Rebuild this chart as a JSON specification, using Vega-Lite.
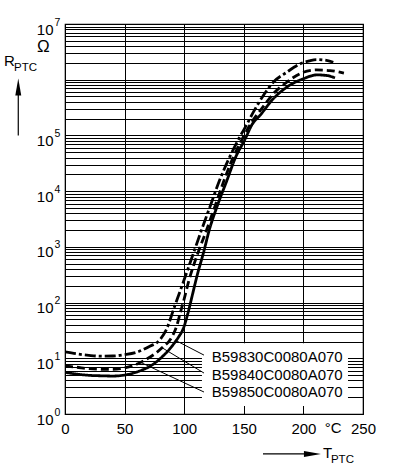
{
  "$schema": "https://vega.github.io/schema/vega-lite/v6.json",
  "autosize": {"type": "none"},
  "width": 298,
  "height": 390,
  "padding": {"left": 65, "top": 24, "right": 30, "bottom": 54},
  "background": "white",
  "config": {
    "view": {"stroke": "black", "strokeWidth": 1.2},
    "font": "Liberation Sans",
    "text": {"font": "Liberation Sans", "color": "black"}
  },
  "datasets": {
    "curves": [
      {"s": "A", "T": 0, "R": 13}, {"s": "A", "T": 10, "R": 12}, {"s": "A", "T": 20, "R": 11.3}, {"s": "A", "T": 30, "R": 10.9},
      {"s": "A", "T": 40, "R": 11}, {"s": "A", "T": 50, "R": 11.6}, {"s": "A", "T": 60, "R": 12.8}, {"s": "A", "T": 70, "R": 16},
      {"s": "A", "T": 80, "R": 22}, {"s": "A", "T": 84.7, "R": 31.6}, {"s": "A", "T": 92, "R": 86}, {"s": "A", "T": 99.8, "R": 251},
      {"s": "A", "T": 107, "R": 692}, {"s": "A", "T": 114.5, "R": 1995}, {"s": "A", "T": 122, "R": 5520}, {"s": "A", "T": 129.6, "R": 15500},
      {"s": "A", "T": 138, "R": 40300}, {"s": "A", "T": 146, "R": 89000}, {"s": "A", "T": 152, "R": 150000}, {"s": "A", "T": 158, "R": 262000},
      {"s": "A", "T": 166.4, "R": 521000}, {"s": "A", "T": 174.7, "R": 902000}, {"s": "A", "T": 186, "R": 1360000}, {"s": "A", "T": 197.1, "R": 1920000},
      {"s": "A", "T": 205, "R": 2180000}, {"s": "A", "T": 211.2, "R": 2300000}, {"s": "A", "T": 218, "R": 2250000}, {"s": "A", "T": 225.1, "R": 2060000},
      {"s": "B", "T": 0, "R": 7.3}, {"s": "B", "T": 10, "R": 6.9}, {"s": "B", "T": 20, "R": 6.5}, {"s": "B", "T": 30, "R": 6.35},
      {"s": "B", "T": 40, "R": 6.3}, {"s": "B", "T": 50, "R": 6.7}, {"s": "B", "T": 60, "R": 7.8}, {"s": "B", "T": 67, "R": 9.3},
      {"s": "B", "T": 75.8, "R": 12.2}, {"s": "B", "T": 81.4, "R": 15.4}, {"s": "B", "T": 89.8, "R": 24.3}, {"s": "B", "T": 93.7, "R": 38},
      {"s": "B", "T": 97, "R": 69}, {"s": "B", "T": 100, "R": 117}, {"s": "B", "T": 104, "R": 251}, {"s": "B", "T": 111, "R": 724},
      {"s": "B", "T": 118.7, "R": 1995}, {"s": "B", "T": 126, "R": 5500}, {"s": "B", "T": 133.4, "R": 15500}, {"s": "B", "T": 141, "R": 40000},
      {"s": "B", "T": 149, "R": 89000}, {"s": "B", "T": 157, "R": 178000}, {"s": "B", "T": 166.4, "R": 331000}, {"s": "B", "T": 174.7, "R": 558000},
      {"s": "B", "T": 186, "R": 902000}, {"s": "B", "T": 199.9, "R": 1360000}, {"s": "B", "T": 211.2, "R": 1500000}, {"s": "B", "T": 222.3, "R": 1460000},
      {"s": "B", "T": 234, "R": 1310000},
      {"s": "C", "T": 0, "R": 5.6}, {"s": "C", "T": 10, "R": 5.2}, {"s": "C", "T": 20, "R": 4.95}, {"s": "C", "T": 30, "R": 4.85},
      {"s": "C", "T": 40, "R": 4.8}, {"s": "C", "T": 50, "R": 5.0}, {"s": "C", "T": 57, "R": 5.4}, {"s": "C", "T": 64.6, "R": 6.15},
      {"s": "C", "T": 73, "R": 7.55}, {"s": "C", "T": 81.4, "R": 10.6}, {"s": "C", "T": 87, "R": 14}, {"s": "C", "T": 92.5, "R": 19.8},
      {"s": "C", "T": 95.4, "R": 24.3}, {"s": "C", "T": 99.2, "R": 34}, {"s": "C", "T": 103, "R": 63}, {"s": "C", "T": 107, "R": 141},
      {"s": "C", "T": 111, "R": 316}, {"s": "C", "T": 116, "R": 759}, {"s": "C", "T": 121, "R": 1995}, {"s": "C", "T": 128, "R": 5620},
      {"s": "C", "T": 135.8, "R": 15500}, {"s": "C", "T": 143, "R": 40000}, {"s": "C", "T": 151, "R": 85000}, {"s": "C", "T": 157, "R": 158000},
      {"s": "C", "T": 163.6, "R": 229000}, {"s": "C", "T": 174.7, "R": 455000}, {"s": "C", "T": 186, "R": 735000}, {"s": "C", "T": 199.9, "R": 1040000},
      {"s": "C", "T": 211.2, "R": 1220000}, {"s": "C", "T": 219.5, "R": 1190000}, {"s": "C", "T": 226.5, "R": 1080000}
    ],
    "box": [{"T": 114.9, "T2": 237.4, "R": 18.7, "R2": 1.39}],
    "leaders": [
      {"T": 92.3, "R": 21.2, "T2": 116.6, "R2": 11.4},
      {"T": 80.5, "R": 15.9, "T2": 116.6, "R2": 5.43},
      {"T": 62.9, "R": 8.55, "T2": 116.6, "R2": 2.48}
    ],
    "labels": [
      {"T": 123.1, "R": 8.66, "text": "B59830C0080A070"},
      {"T": 123.1, "R": 4.15, "text": "B59840C0080A070"},
      {"T": 123.1, "R": 1.99, "text": "B59850C0080A070"}
    ],
    "exps": [
      {"T": 0, "R": 1, "e": "0"}, {"T": 0, "R": 10, "e": "1"}, {"T": 0, "R": 100, "e": "2"}, {"T": 0, "R": 1000, "e": "3"},
      {"T": 0, "R": 10000, "e": "4"}, {"T": 0, "R": 100000, "e": "5"}, {"T": 0, "R": 10000000, "e": "7"}
    ],
    "bigText": [
      {"T": -51.2, "R": 1796000, "text": "R"},
      {"T": 216.4, "R": 0.163, "text": "T"},
      {"T": 217.9, "R": 0.457, "text": "°C"}
    ],
    "omega": [{"T": -18.2, "R": 3110000, "text": "Ω"}],
    "subText": [
      {"T": -42.8, "R": 1462000, "text": "PTC"},
      {"T": 223.1, "R": 0.1324, "text": "PTC"}
    ],
    "arrowLines": [
      {"T": -39.2, "R": 100000, "T2": -39.2, "R2": 590000},
      {"T": 166.1, "R": 0.192, "T2": 202.2, "R2": 0.192}
    ],
    "arrowUp": [{"T": -39.2, "R": 740000}],
    "arrowRight": [{"T": 207.6, "R": 0.192}]
  },
  "encoding": {
    "x": {
      "field": "T", "type": "quantitative",
      "scale": {"domain": [0, 250], "nice": false, "zero": false},
      "axis": {
        "title": null, "values": [0, 50, 100, 150, 200, 250],
        "grid": true, "gridColor": "black", "gridWidth": 1, "gridOpacity": 1,
        "ticks": false, "tickSize": 0, "domain": false,
        "labelFont": "Liberation Sans", "labelFontSize": 15, "labelColor": "black",
        "labelPadding": 7, "labelFlush": false, "labelOverlap": false, "labelBound": false
      }
    },
    "y": {
      "field": "R", "type": "quantitative",
      "scale": {"type": "log", "domain": [1, 10000000], "nice": false},
      "axis": {
        "title": null,
        "values": [1,2,3,4,5,6,7,8,9,10,20,30,40,50,60,70,80,90,100,200,300,400,500,600,700,800,900,1000,2000,3000,4000,5000,6000,7000,8000,9000,10000,20000,30000,40000,50000,60000,70000,80000,90000,100000,200000,300000,400000,500000,600000,700000,800000,900000,1000000,2000000,3000000,4000000,5000000,6000000,7000000,8000000,9000000,10000000],
        "labelExpr": "indexof([1,10,100,1000,10000,100000,10000000], datum.value) >= 0 ? '10' : ''",
        "grid": true, "gridColor": "black", "gridWidth": 1, "gridOpacity": 1,
        "ticks": false, "tickSize": 0, "domain": false,
        "labelFont": "Liberation Sans", "labelFontSize": 15, "labelColor": "black",
        "labelPadding": 12, "labelBaseline": "top", "labelOffset": -2,
        "labelFlush": false, "labelOverlap": false, "labelBound": false
      }
    }
  },
  "layer": [
    {
      "data": {"name": "curves"},
      "mark": {"type": "line", "color": "black", "strokeWidth": 2.8, "interpolate": "monotone", "clip": true},
      "encoding": {
        "detail": {"field": "s"},
        "strokeDash": {"field": "s", "type": "nominal", "legend": null,
          "scale": {"domain": ["A", "B", "C"], "range": [[11, 3, 3, 3], [8, 4], [1, 0]]}}
      }
    },
    {
      "data": {"name": "box"},
      "mark": {"type": "rect", "fill": "white", "stroke": null},
      "encoding": {"x2": {"field": "T2"}, "y2": {"field": "R2"}}
    },
    {
      "data": {"name": "leaders"},
      "mark": {"type": "rule", "color": "black", "strokeWidth": 1},
      "encoding": {"x2": {"field": "T2"}, "y2": {"field": "R2"}}
    },
    {
      "data": {"name": "labels"},
      "mark": {"type": "text", "align": "left", "baseline": "alphabetic", "fontSize": 15, "font": "Liberation Sans", "color": "black"},
      "encoding": {"text": {"field": "text"}}
    },
    {
      "data": {"name": "exps"},
      "mark": {"type": "text", "align": "left", "baseline": "alphabetic", "fontSize": 10.5, "dx": -10.5, "dy": 1.5, "font": "Liberation Sans", "color": "black"},
      "encoding": {"text": {"field": "e"}}
    },
    {
      "data": {"name": "bigText"},
      "mark": {"type": "text", "align": "left", "baseline": "alphabetic", "fontSize": 15, "font": "Liberation Sans", "color": "black"},
      "encoding": {"text": {"field": "text"}}
    },
    {
      "data": {"name": "omega"},
      "mark": {"type": "text", "align": "center", "baseline": "alphabetic", "fontSize": 17, "font": "Liberation Sans", "color": "black"},
      "encoding": {"text": {"field": "text"}}
    },
    {
      "data": {"name": "subText"},
      "mark": {"type": "text", "align": "left", "baseline": "alphabetic", "fontSize": 11.5, "font": "Liberation Sans", "color": "black"},
      "encoding": {"text": {"field": "text"}}
    },
    {
      "data": {"name": "arrowLines"},
      "mark": {"type": "rule", "color": "black", "strokeWidth": 1.2},
      "encoding": {"x2": {"field": "T2"}, "y2": {"field": "R2"}}
    },
    {
      "data": {"name": "arrowUp"},
      "mark": {"type": "point", "shape": "M0,-1L0.35,1L-0.35,1Z", "size": 289, "filled": true, "color": "black", "opacity": 1, "strokeWidth": 0}
    },
    {
      "data": {"name": "arrowRight"},
      "mark": {"type": "point", "shape": "M1,0L-1,0.35L-1,-0.35Z", "size": 289, "filled": true, "color": "black", "opacity": 1, "strokeWidth": 0}
    }
  ]
}
